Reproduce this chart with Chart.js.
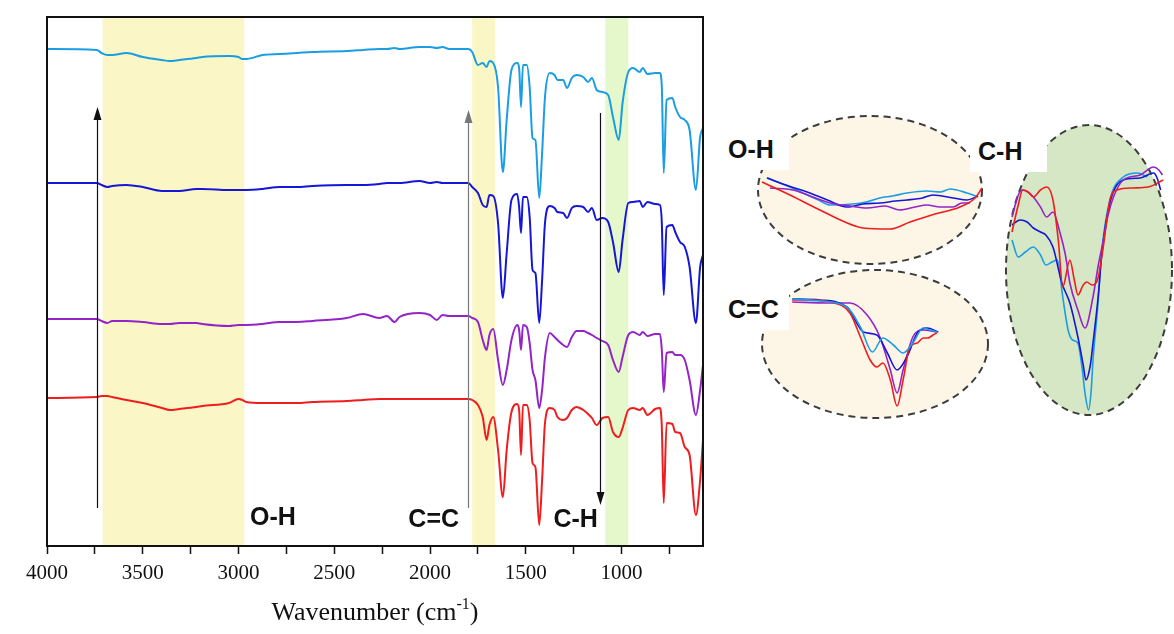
<!DOCTYPE html>
<html><head><meta charset="utf-8">
<script src="https://cdn.jsdelivr.net/npm/chart.js@4.4.1/dist/chart.umd.min.js"></script>
<style>
html,body{margin:0;padding:0;background:#fff;}
#wrap{position:relative;width:1174px;height:634px;overflow:hidden;background:#fff;}
canvas{position:absolute;display:block;}
.lbl{position:absolute;background:#fff;font-family:'Liberation Sans',Arial,sans-serif;font-weight:700;font-size:25px;color:#111;line-height:1;display:flex;align-items:center;padding-left:8px;box-sizing:border-box;z-index:5;}
</style></head><body>
<div id="wrap">
<canvas id="main" width="1174" height="634" style="left:0;top:0;width:1174px;height:634px;"></canvas>
<canvas id="ohc" width="228" height="152" style="left:756px;top:114px;width:228px;height:152px;"></canvas>
<canvas id="ccc" width="230" height="152" style="left:760px;top:268px;width:230px;height:152px;"></canvas>
<canvas id="chc" width="170" height="294" style="left:1004px;top:123px;width:170px;height:294px;"></canvas>
<div class="lbl" style="left:720px;top:128px;width:69px;height:42px;">O-H</div>
<div class="lbl" style="left:720px;top:289px;width:69px;height:41px;">C=C</div>
<div class="lbl" style="left:970px;top:130px;width:77px;height:42px;">C-H</div>
</div>
<script>
// ---------- main spectra data ----------
const wavenumber = [4000,3740,3715,3685,3660,3585,3500,3400,3360,3310,3220,3190,3050,3000,2980,2960,2875,2785,2695,2615,2435,2350,2265,2225,2185,2160,2055,2000,1965,1935,1900,1800,
1780,1750,1725,1705,1690,1670,1645,1620,1600,1575,1545,1535,1525,1515,1495,1480,1465,1450,1430,1415,1400,1375,1350,1335,1305,1285,1260,1235,1200,1175,1155,1130,1100,1070,1045,1015,995,965,940,905,890,865,825,800,790,780,765,735,720,695,670,645,612,590,575];
const spectrumLightBlue = [497,496,493,491,491,493,489,486,485,486,488,489,490,489,487,487,491,492,493,494,495,496,497,497,498,497,499,499,498,499,497,497,
494,481,483,479,485,483,459,374,426,476,483,478,439,481,481,459,408,406,348,393,449,473,471,466,466,458,468,471,469,464,468,456,454,451,429,406,443,474,478,474,478,472,473,473,459,373,446,448,439,429,426,416,356,409,418];
const spectrumBlue = [363,363,361,359,360,361,359,355,355,355,357,357,356,356,356,356,357,359,359,360,361,361,362,363,363,363,365,363,364,363,363,363,
359,353,341,339,351,350,323,248,293,346,352,339,313,349,349,329,276,273,223,266,323,340,338,334,333,328,338,340,339,334,338,326,328,324,304,274,306,343,344,345,339,344,342,341,323,251,319,321,314,304,299,279,223,279,291];
const spectrumPurple = [227,227,225,223,225,225,224,222,222,223,223,222,220,221,221,221,222,224,224,225,228,232,228,230,224,229,233,231,226,231,230,230,
228,224,206,196,211,217,186,161,176,206,221,216,196,221,219,203,176,166,138,156,189,213,209,206,201,199,209,215,215,213,211,208,205,201,186,174,189,211,214,211,214,210,212,212,196,154,193,194,191,191,186,166,131,156,181];
const spectrumRed = [148,149,150,150,149,146,143,138,136,137,139,140,143,147,146,144,143,143,143,144,145,146,147,147,147,147,147,147,147,147,147,147,
146,141,129,106,121,129,96,49,96,134,142,136,91,141,141,126,83,79,21,66,123,138,136,129,126,128,136,139,136,132,128,121,128,129,114,109,118,136,138,136,138,131,137,138,119,43,123,122,114,113,99,91,31,66,106];
const xTickValues = [4000,3750,3500,3250,3000,2750,2500,2250,2000,1750,1500,1250,1000,750];

// ---------- inset data [wavenumber, relative transmittance] ----------
const ohRed = [[3710,84],[3616,71],[3515,56],[3431,44],[3370,38],[3279,37],[3212,44],[3128,52],[3044,59],[2993,68],[2970,78]];
const ohLightBlue = [[3693,88],[3640,82],[3572,73],[3520,66],[3481,61],[3404,62],[3360,64],[3313,68],[3270,70],[3222,73],[3155,75],[3110,74],[3077,77],[3020,73],[2983,69]];
const ohBlue = [[3693,88],[3620,80],[3558,74],[3490,66],[3424,59],[3370,62],[3313,63],[3260,65],[3222,66],[3170,68],[3135,71],[3067,68],[3020,66],[2983,70]];
const ohPurple = [[3683,78],[3606,76],[3548,70],[3481,63],[3414,60],[3357,58],[3296,60],[3246,56],[3195,59],[3155,61],[3111,59],[3067,59],[3037,63],[3010,63]];

const ccRed = [[1760,120],[1736,120],[1709,118],[1683,107],[1669,83],[1656,60],[1647,53],[1639,57],[1629,40],[1620,14],[1612,40],[1603,73],[1593,77],[1585,82],[1579,82],[1572,85],[1567,87]];
const ccLightBlue = [[1760,121],[1723,119],[1687,113],[1669,93],[1653,68],[1639,82],[1625,75],[1612,67],[1599,77],[1585,92],[1576,90],[1567,88]];
const ccBlue = [[1760,121],[1723,120],[1687,113],[1665,88],[1647,85],[1633,67],[1620,50],[1607,63],[1593,87],[1580,92],[1565,88]];
const ccPurple = [[1760,118],[1713,117],[1683,117],[1660,105],[1643,83],[1629,50],[1620,27],[1612,50],[1599,83],[1585,90],[1567,88]];

const chRed = [[1100,185],[1093,212],[1088,227],[1082,225],[1076,220],[1068,227],[1061,230],[1054,217],[1048,177],[1043,130],[1035,157],[1030,137],[1026,122],[1020,132],[1016,135],[1010,132],[1004,137],[998,167],[990,217],[982,227],[964,229],[947,230],[930,237]];
const chPurple = [[1100,200],[1093,222],[1088,227],[1082,225],[1076,220],[1068,210],[1061,200],[1054,205],[1046,184],[1040,162],[1035,134],[1026,107],[1018,89],[1009,120],[1003,152],[998,174],[992,202],[986,220],[975,237],[956,242],[941,250],[935,247],[931,242]];
const chBlue = [[1100,192],[1091,197],[1083,195],[1076,189],[1068,185],[1062,182],[1054,170],[1044,134],[1035,114],[1026,80],[1020,52],[1017,37],[1012,52],[1009,74],[1003,122],[999,164],[990,214],[975,237],[956,239],[941,244],[937,239],[933,227]];
const chLightBlue = [[1100,177],[1093,160],[1085,165],[1076,170],[1068,162],[1062,152],[1055,155],[1049,157],[1043,120],[1037,87],[1032,77],[1026,74],[1021,47],[1018,24],[1014,7],[1011,27],[1009,57],[1004,107],[999,167],[990,217],[975,240],[959,244],[948,240]];

// ---------- styling ----------
const C_LB = '#1b9de3', C_B = '#1616d6', C_P = '#9424c8', C_R = '#ef1d1d';
const bands = [{from:3710,to:2970,color:'#faf6c6'},{from:1780,to:1660,color:'#faf6c6'},{from:1085,to:965,color:'#e4f8cc'}];
const arrows = [{wn:3740,from:38,to:439,color:'#111'},{wn:1803,from:38,to:436,color:'#777'},{wn:1113,from:433,to:41,color:'#111'}];
const groupLabels = [{wn:2820,y:28,text:'O-H'},{wn:1981,y:26,text:'C=C'},{wn:1240,y:26,text:'C-H'}];

const toXY = (xs, ys) => xs.map((x,i)=>({x, y: ys[i]}));

const mainPlugin = {
  id:'mainDecor',
  beforeDatasetsDraw(chart){
    const {ctx, chartArea:a, scales:{x}} = chart;
    ctx.save();
    bands.forEach(b=>{
      const x1 = x.getPixelForValue(b.from), x2 = x.getPixelForValue(b.to);
      ctx.fillStyle = b.color;
      ctx.fillRect(Math.min(x1,x2), a.top, Math.abs(x2-x1), a.bottom-a.top);
    });
    ctx.restore();
  },
  afterDatasetsDraw(chart){
    const {ctx, chartArea:a, scales:{x,y}} = chart;
    ctx.save();
    arrows.forEach(ar=>{
      const px = Math.round(x.getPixelForValue(ar.wn))+0.5;
      const y1 = y.getPixelForValue(ar.from), y2 = y.getPixelForValue(ar.to);
      const dir = y2 < y1 ? -1 : 1;
      ctx.strokeStyle = ar.color; ctx.fillStyle = ar.color; ctx.lineWidth = 1.2;
      ctx.beginPath(); ctx.moveTo(px,y1); ctx.lineTo(px,y2 - dir*10); ctx.stroke();
      ctx.beginPath(); ctx.moveTo(px,y2); ctx.lineTo(px-4,y2-dir*13); ctx.lineTo(px+4,y2-dir*13); ctx.closePath(); ctx.fill();
    });
    ctx.fillStyle = '#111';
    ctx.font = 'bold 25px "Liberation Sans", Arial, sans-serif';
    ctx.textAlign = 'center'; ctx.textBaseline = 'middle';
    groupLabels.forEach(l=>ctx.fillText(l.text, x.getPixelForValue(l.wn), y.getPixelForValue(l.y)));
    ctx.strokeStyle = '#111'; ctx.lineWidth = 2;
    ctx.strokeRect(a.left, a.top, a.right-a.left, a.bottom-a.top);
    ctx.restore();
  },
  afterDraw(chart){
    const {ctx, chartArea:a} = chart;
    ctx.save();
    ctx.fillStyle = '#111';
    ctx.textBaseline = 'alphabetic'; ctx.textAlign = 'left';
    const big = '26px "Liberation Serif", "Times New Roman", serif';
    const sm = '16px "Liberation Serif", "Times New Roman", serif';
    const p1 = 'Wavenumber (cm', p2 = '-1', p3 = ')';
    ctx.font = big; const w1 = ctx.measureText(p1).width, w3 = ctx.measureText(p3).width;
    ctx.font = sm; const w2 = ctx.measureText(p2).width;
    const total = w1+w2+w3; let sx = (a.left+a.right)/2 - total/2; const by = 620;
    ctx.font = big; ctx.fillText(p1, sx, by); sx += w1;
    ctx.font = sm; ctx.fillText(p2, sx, by-11); sx += w2;
    ctx.font = big; ctx.fillText(p3, sx, by);
    ctx.restore();
  }
};

const lineDs = (label, data, color, w) => ({label, data, borderColor:color, backgroundColor:color, borderWidth:w, pointRadius:0, fill:false, cubicInterpolationMode:'monotone', clip:false});

new Chart(document.getElementById('main'), {
  type:'line',
  data:{datasets:[
    lineDs('Sample 1', toXY(wavenumber, spectrumLightBlue), C_LB, 2),
    lineDs('Sample 2', toXY(wavenumber, spectrumBlue), C_B, 2),
    lineDs('Sample 3', toXY(wavenumber, spectrumPurple), C_P, 2),
    lineDs('Sample 4', toXY(wavenumber, spectrumRed), C_R, 2)
  ]},
  options:{
    responsive:false, animation:false, devicePixelRatio:1,
    parsing:false,
    layout:{padding:{left:47, top:17, right:471, bottom:0}},
    plugins:{legend:{display:false}, tooltip:{enabled:false}},
    scales:{
      x:{type:'linear', reverse:true, min:575, max:4000,
        afterBuildTicks(s){ s.ticks = xTickValues.map(v=>({value:v})); },
        afterFit(s){ s.height = 88; },
        ticks:{autoSkip:false, maxRotation:0, padding:7, color:'#111',
          font:{family:'"Liberation Serif", "Times New Roman", serif', size:21},
          callback:(v)=> (v % 500 === 0 ? String(v) : '')},
        grid:{display:true, drawOnChartArea:false, drawTicks:true, tickLength:8, tickColor:'#111', tickWidth:1.5},
        border:{display:true, color:'#111', width:2}
      },
      y:{type:'linear', display:false, min:0, max:529}
    }
  },
  plugins:[mainPlugin]
});

// ---------- insets ----------
function ellipsePlugin(fill){
  return {id:'ellipse', beforeDatasetsDraw(chart){
    const {ctx, width, height} = chart;
    ctx.save();
    ctx.beginPath();
    ctx.ellipse(width/2, height/2, width/2-2, height/2-2, 0, 0, Math.PI*2);
    ctx.fillStyle = fill; ctx.fill();
    ctx.setLineDash([7,5]); ctx.lineWidth = 2; ctx.strokeStyle = '#3c3c3c'; ctx.stroke();
    ctx.restore();
  }};
}
const pairs = arr => arr.map(p=>({x:p[0], y:p[1]}));
function inset(id, sets, xmin, xmax, ymax, fill){
  new Chart(document.getElementById(id), {
    type:'line',
    data:{datasets: sets.map(s=>lineDs(s[0], pairs(s[1]), s[2], 1.6))},
    options:{
      responsive:false, animation:false, devicePixelRatio:1, parsing:false,
      layout:{padding:0},
      plugins:{legend:{display:false}, tooltip:{enabled:false}},
      scales:{
        x:{type:'linear', display:false, reverse:true, min:xmin, max:xmax},
        y:{type:'linear', display:false, min:0, max:ymax}
      }
    },
    plugins:[ellipsePlugin(fill)]
  });
}
inset('ohc', [['Sample 4',ohRed,C_R],['Sample 3',ohPurple,C_P],['Sample 2',ohBlue,C_B],['Sample 1',ohLightBlue,C_LB]], 2963, 3730, 152, '#fdf5e6');
inset('ccc', [['Sample 1',ccLightBlue,C_LB],['Sample 4',ccRed,C_R],['Sample 2',ccBlue,C_B],['Sample 3',ccPurple,C_P]], 1496, 1803, 152, '#fdf5e6');
inset('chc', [['Sample 4',chRed,C_R],['Sample 3',chPurple,C_P],['Sample 2',chBlue,C_B],['Sample 1',chLightBlue,C_LB]], 918, 1109, 294, '#d5e7c4');
</script>
</body></html>
